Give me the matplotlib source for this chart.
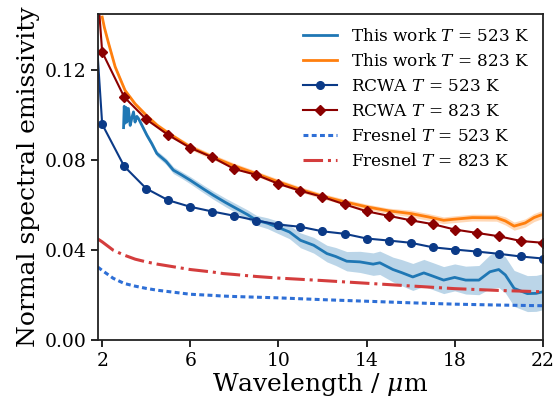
import numpy as np
import matplotlib
matplotlib.use('Agg')
import matplotlib.pyplot as plt

plt.rcParams['font.family'] = 'DejaVu Serif'
plt.rcParams['mathtext.fontset'] = 'dejavuserif'

# this work, T = 523 K (measured, with uncertainty band)
wl_tw523 = [2.97, 3.0, 3.04, 3.08, 3.12, 3.19, 3.27, 3.35, 3.42, 3.49,
            3.57, 3.65, 3.8, 4.03, 4.25, 4.48, 4.9, 5.23, 5.6, 6.0,
            6.6, 7.05, 7.6, 8.1, 8.6, 9.0, 9.5, 9.92, 10.5, 11.0,
            11.6, 12.2, 12.6, 13.1, 13.7, 14.3, 14.6, 15.2, 15.6, 16.1,
            16.6, 17.0, 17.5, 18.0, 18.5, 19.1, 19.6, 20.0, 20.3, 20.7,
            21.3, 21.7, 22.0]
em_tw523 = [0.0945, 0.1040, 0.0965, 0.1035, 0.0970, 0.1030, 0.0955, 0.0990, 0.1015, 0.0970,
            0.0995, 0.0985, 0.0956, 0.0911, 0.0874, 0.0830, 0.0795, 0.0756, 0.0735, 0.0711,
            0.0672, 0.0644, 0.0612, 0.0585, 0.0558, 0.0533, 0.0520, 0.0504, 0.0481, 0.0444,
            0.0422, 0.0385, 0.0372, 0.0351, 0.0348, 0.0338, 0.0344, 0.0314, 0.0300, 0.0281,
            0.0299, 0.0285, 0.0267, 0.0279, 0.0267, 0.0267, 0.0304, 0.0314, 0.0290, 0.0230,
            0.0207, 0.0208, 0.0215]
sd_tw523 = [0.001] * 13 + \
           [0.0012, 0.0012, 0.0013, 0.0014, 0.0015, 0.0015, 0.0016,
            0.0017, 0.0018, 0.0019, 0.002, 0.0021, 0.0022, 0.0024, 0.0027, 0.003, 0.0033,
            0.0035, 0.0037, 0.004, 0.0043, 0.0047, 0.005, 0.0052, 0.0055, 0.0058, 0.006,
            0.006, 0.006, 0.006, 0.006, 0.0062, 0.0065, 0.0075, 0.008, 0.008, 0.008,
            0.008, 0.008, 0.008]

# this work, T = 823 K
wl_tw823 = [2.0, 2.1, 2.29, 2.59, 3.04, 3.5, 4.0, 4.5, 5.0, 5.5,
            6.0, 7, 8, 9, 10, 11, 12, 13, 14, 15,
            16, 16.8, 17.5, 17.9, 18.8, 19.9, 20.3, 20.7, 21.2, 21.6,
            21.9, 22.0]
em_tw823 = [0.1437, 0.139, 0.132, 0.1215, 0.111, 0.105, 0.100, 0.0955, 0.0921, 0.0890,
            0.0859, 0.0815, 0.0775, 0.0740, 0.0704, 0.0670, 0.0640, 0.0615, 0.0593, 0.0575,
            0.0563, 0.0548, 0.0533, 0.0537, 0.0545, 0.0544, 0.0530, 0.0507, 0.0521, 0.0545,
            0.0556, 0.0558]
sd_tw823 = [0.001] * 10 + [0.0012] * 10 + [0.0015] * 6 + [0.0018] * 6

# RCWA simulations
wl_rcwa = list(range(1, 23))
em_rcwa523 = [0.245, 0.096, 0.0773, 0.0674, 0.0622, 0.0593, 0.0572, 0.0553, 0.0532, 0.0514,
              0.0504, 0.0484, 0.0473, 0.0452, 0.0443, 0.0433, 0.0413, 0.0403, 0.0394, 0.0384,
              0.0372, 0.0363]
em_rcwa823 = [0.26, 0.1281, 0.1081, 0.0982, 0.0912, 0.0855, 0.0813, 0.0761, 0.0735, 0.0695,
              0.0664, 0.0637, 0.0604, 0.0573, 0.0553, 0.0533, 0.0516, 0.0492, 0.0477, 0.0462,
              0.0441, 0.0433]

# Fresnel (flat surface)
wl_fr = [1.8, 2, 2.5, 3, 3.5, 4, 4.5, 5, 6, 7, 7.5, 8, 9, 10, 12, 14, 16, 18, 20, 22]
em_fr523 = [0.0325, 0.031, 0.0275, 0.0252, 0.024, 0.0230, 0.0222, 0.0216, 0.0204, 0.0199,
            0.0196, 0.0194, 0.0191, 0.0188, 0.0180, 0.0173, 0.0166, 0.0160, 0.0156, 0.0153]
em_fr823 = [0.0450, 0.0437, 0.0400, 0.0378, 0.0360, 0.0348, 0.0338, 0.0330, 0.0314, 0.0303,
            0.0296, 0.0292, 0.0283, 0.0276, 0.0265, 0.0253, 0.0241, 0.0229, 0.0221, 0.0215]

fig = plt.figure(figsize=(5.55, 4.03), dpi=100)
ax = fig.add_axes([0.177, 0.156, 0.801, 0.809])

em = np.array(em_tw523); sd = np.array(sd_tw523)
ax.fill_between(wl_tw523, em - sd, em + sd, color='#1f77b4', alpha=0.3, lw=0)
ax.plot(wl_tw523, em_tw523, color='#1f77b4', lw=2, label='This work $T$ = 523 K')
em = np.array(em_tw823); sd = np.array(sd_tw823)
ax.fill_between(wl_tw823, em - sd, em + sd, color='#ff7f0e', alpha=0.3, lw=0)
ax.plot(wl_tw823, em_tw823, color='#ff7f0e', lw=2, label='This work $T$ = 823 K')

ax.plot(wl_rcwa, em_rcwa523, color='#0b3a87', lw=1.5, marker='o', ms=5.5,
        label='RCWA $T$ = 523 K')
ax.plot(wl_rcwa, em_rcwa823, color='#8b0000', lw=1.5, marker='D', ms=5.5,
        label='RCWA $T$ = 823 K')

ax.plot(wl_fr, em_fr523, color='#2e6fd6', lw=2.2, ls=(0, (1.6, 1.1)),
        label='Fresnel $T$ = 523 K')
ax.plot(wl_fr, em_fr823, color='#d43d3d', lw=2.2, ls='-.',
        label='Fresnel $T$ = 823 K')

ax.set_xlim(1.82, 22)
ax.set_ylim(0, 0.145)
ax.set_xticks([2, 6, 10, 14, 18, 22])
ax.set_yticks([0, 0.04, 0.08, 0.12])
ax.set_yticklabels(['0.00', '0.04', '0.08', '0.12'])
ax.tick_params(direction='out', length=5, width=1.2, labelsize=13.5)
for s in ax.spines.values():
    s.set_linewidth(1.3)
    s.set_color('#222222')

ax.set_xlabel(r'Wavelength / $\mu$m', fontsize=18, labelpad=1)
ax.set_ylabel('Normal spectral emissivity', fontsize=18, labelpad=3)
ax.legend(loc='upper right', frameon=False, fontsize=12.2, handlelength=2.0,
          borderaxespad=0.4, labelspacing=0.48)

fig.savefig('out.png', dpi=100)
